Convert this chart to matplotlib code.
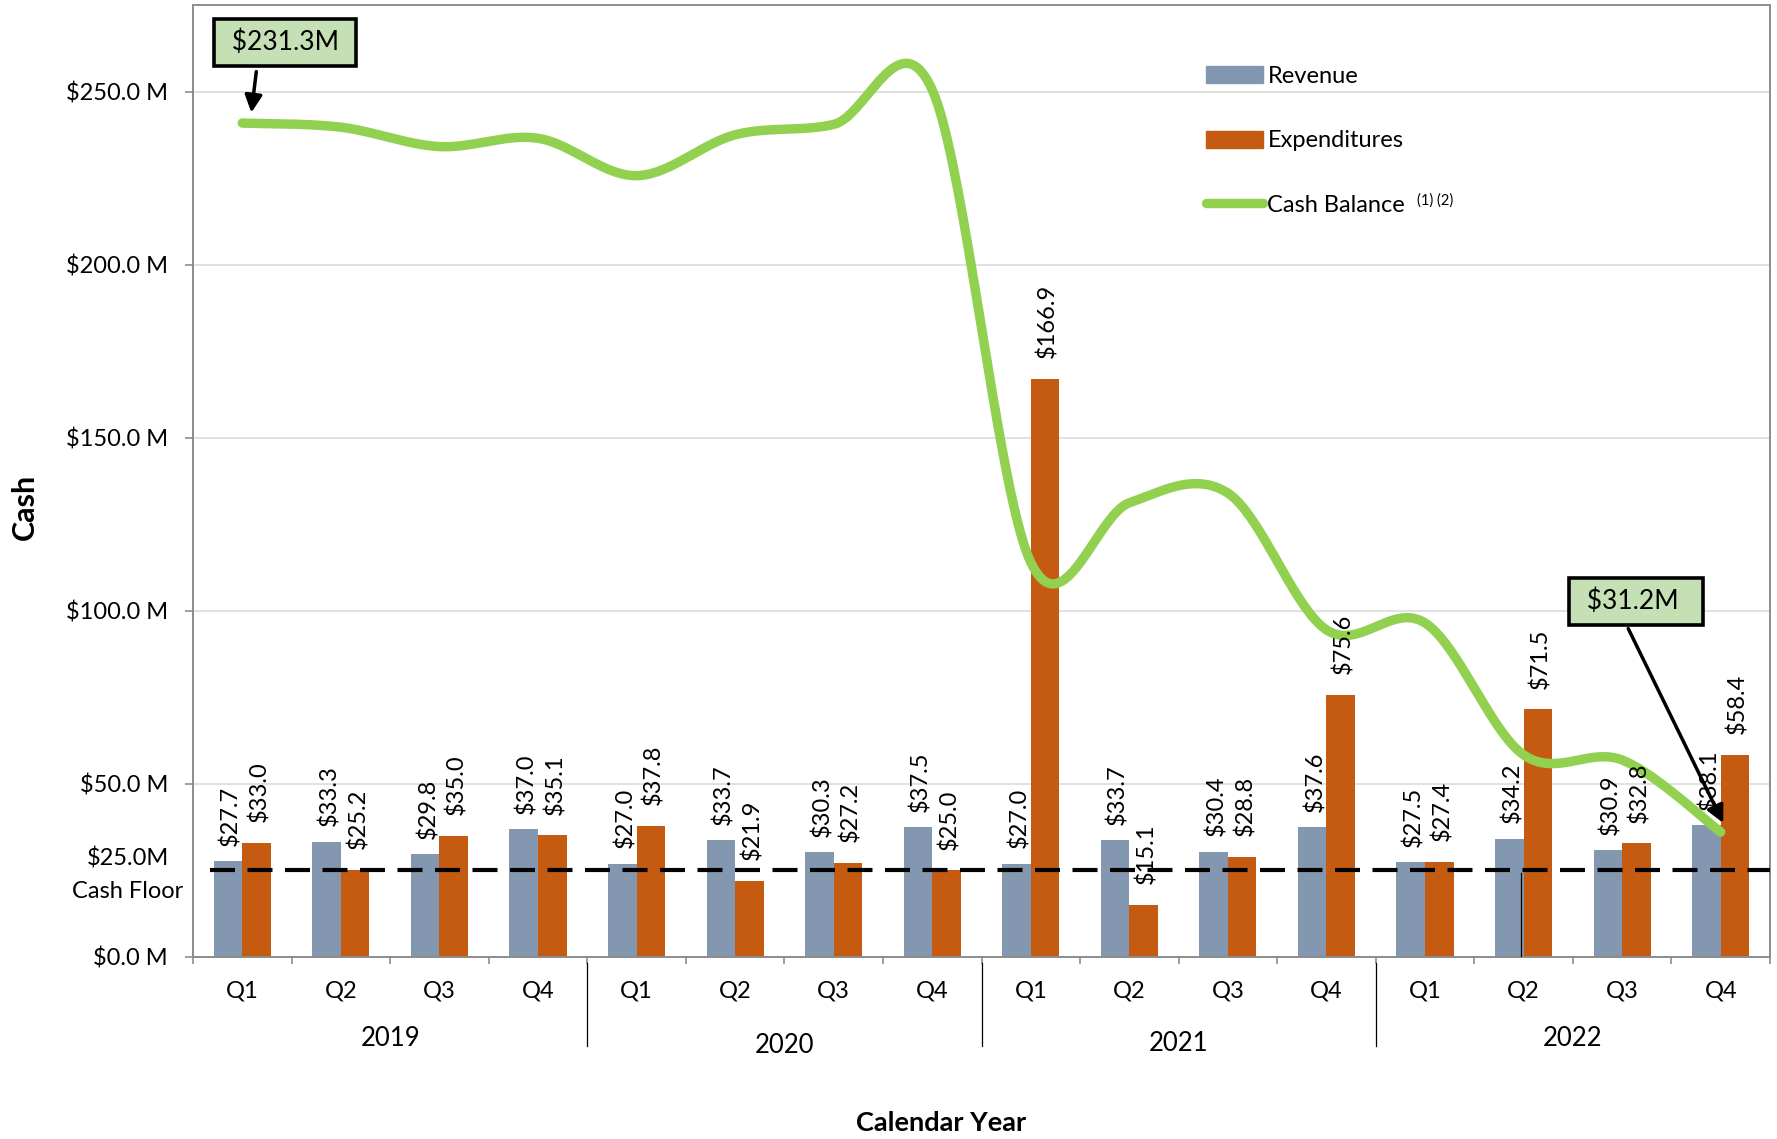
import numpy as np
import matplotlib
matplotlib.use('Agg')
import matplotlib.pyplot as plt
from matplotlib.transforms import blended_transform_factory, ScaledTranslation
from matplotlib.lines import Line2D
from matplotlib.patches import Patch

plt.rcParams['font.family'] = ['Lato', 'DejaVu Sans']

# data ($M)
quarters = ['Q1', 'Q2', 'Q3', 'Q4'] * 4
years = ['2019', '2020', '2021', '2022']
revenue = [27.7, 33.3, 29.8, 37.0, 27.0, 33.7, 30.3, 37.5,
           27.0, 33.7, 30.4, 37.6, 27.5, 34.2, 30.9, 38.1]
expenditures = [33.0, 25.2, 35.0, 35.1, 37.8, 21.9, 27.2, 25.0,
                166.9, 15.1, 28.8, 75.6, 27.4, 71.5, 32.8, 58.4]
cash_balance = [240.9, 239.7, 234.1, 236.5, 225.7, 237.5, 240.5, 250.5,
                114.0, 131.2, 134.0, 94.5, 96.5, 58.4, 56.9, 36.1]
cash_floor = 25.0
start_label = '$231.3M'
end_label = '$31.2M'

REV_COLOR = '#8497B0'
EXP_COLOR = '#C55A11'
CASH_COLOR = '#92D050'
BOX_COLOR = '#C5E0B4'
AXIS_GRAY = '#8C8C8C'


def smooth(y, n=40):
    """Excel-style smoothed line: cubic bezier through every point."""
    y = np.asarray(y, float)
    x = np.arange(len(y), dtype=float)
    pts = np.column_stack([x, y])
    pad = np.vstack([pts[:1], pts, pts[-1:]])
    t = np.linspace(0, 1, n)[:, None]
    out = [pts[:1]]
    for i in range(len(y) - 1):
        p0, p3 = pad[i + 1], pad[i + 2]
        p1 = p0 + (pad[i + 2] - pad[i]) / 6
        p2 = p3 - (pad[i + 3] - pad[i + 1]) / 6
        seg = ((1 - t) ** 3 * p0 + 3 * (1 - t) ** 2 * t * p1
               + 3 * (1 - t) * t ** 2 * p2 + t ** 3 * p3)
        out.append(seg[1:])
    out = np.vstack(out)
    return out[:, 0], out[:, 1]


W, H = 1777, 1139
fig = plt.figure(figsize=(W / 100, H / 100), dpi=100)
ax = fig.add_axes([193 / W, 1 - 957 / H, (1770 - 193) / W, 952 / H])

x = np.arange(len(revenue))
w = 0.29
ax.bar(x - w / 2, revenue, w, color=REV_COLOR, zorder=2)
ax.bar(x + w / 2, expenditures, w, color=EXP_COLOR, zorder=2)

for xi, v in zip(x - w / 2, revenue):
    ax.annotate(f'${v:.1f}', (xi, v), xytext=(2, 11), textcoords='offset points',
                rotation=90, ha='center', va='bottom', fontsize=17, zorder=6)
for xi, v in zip(x + w / 2, expenditures):
    ax.annotate(f'${v:.1f}', (xi, v), xytext=(2, 15), textcoords='offset points',
                rotation=90, ha='center', va='bottom', fontsize=17, zorder=6)

# cash floor
ax.axhline(cash_floor, xmin=17 / 1577, color='black', lw=3, dashes=(6, 3), zorder=3)
# stray separator stub in Q2 2022
ax.axvline(13 - 0.03, ymin=0, ymax=cash_floor / 275 * 0.97, color='black', lw=0.9, zorder=3)

xs, ys = smooth(cash_balance)
ax.plot(xs, ys, color=CASH_COLOR, lw=6.8, solid_capstyle='round', zorder=4)

# axes
ax.set_xlim(-0.5, 15.5)
ax.set_ylim(0, 275)
yt = np.arange(0, 251, 50)
ax.set_yticks(yt)
ax.set_yticklabels([f'${v:.1f} M' for v in yt], fontsize=17)
ax.yaxis.grid(True, color='#D9D9D9', lw=1.1)
ax.set_axisbelow(True)
ax.tick_params(axis='y', length=6, width=1.2, color=AXIS_GRAY, pad=12)

ax.set_xticks(x)
ax.set_xticklabels(quarters, fontsize=17)
ax.tick_params(axis='x', which='major', length=0, pad=17)
ax.set_xticks(np.arange(-0.5, 16, 1), minor=True)
ax.tick_params(axis='x', which='minor', length=5, width=1.2, color=AXIS_GRAY)

for s in ax.spines.values():
    s.set_color(AXIS_GRAY)
    s.set_linewidth(1.4)

trans = blended_transform_factory(ax.transData, ax.transAxes)
for b in [3.5, 7.5, 11.5]:
    ax.plot([b, b], [-0.006, -0.094], transform=trans, color='black', lw=0.9, clip_on=False)
year_label_y = [-0.086, -0.093, -0.091, -0.086]
for i, (yr, yy) in enumerate(zip(years, year_label_y)):
    ax.text(1.5 + 4 * i, yy, yr, transform=trans, ha='center', va='center', fontsize=18.5)

# legend
handles = [Patch(color=REV_COLOR), Patch(color=EXP_COLOR),
           Line2D([], [], color=CASH_COLOR, lw=6.8, solid_capstyle='round')]
ax.legend(handles, ['Revenue', 'Expenditures', 'Cash Balance'], loc='upper left',
          bbox_to_anchor=(1206 / W, 1 - 66 / H), bbox_transform=fig.transFigure,
          frameon=False, fontsize=17, handlelength=2.4, handleheight=0.75,
          handletextpad=0.2, labelspacing=1.84, borderpad=0, borderaxespad=0)
fig.text(1417 / W, 1 - 201 / H, '(1) (2)', fontsize=10.5, va='center')

# callouts
box = dict(boxstyle='square,pad=0.4', fc=BOX_COLOR, ec='black', lw=2.6)
arrow = dict(arrowstyle='-|>', color='black', lw=2.5, mutation_scale=26, shrinkA=0, shrinkB=0)


def nudged(dx, dy):
    return ax.transData + ScaledTranslation(dx / 72, dy / 72, fig.dpi_scale_trans)


ax.annotate('', xy=(0, cash_balance[0]), xycoords=nudged(6.5, 7.5),
            xytext=(3.6, 29.5), textcoords='offset points', arrowprops=arrow, zorder=7)
ax.annotate(' ' + start_label + ' ', xy=(0, cash_balance[0]), xytext=(31, 58),
            textcoords='offset points', ha='center', va='center', fontsize=19,
            bbox=box, zorder=8)
ax.annotate('', xy=(15, cash_balance[-1]), xycoords=nudged(1.8, 6.5),
            xytext=(-68.4, 140), textcoords='offset points', arrowprops=arrow, zorder=7)
ax.annotate(' ' + end_label + '  ', xy=(15, cash_balance[-1]), xytext=(-61, 166),
            textcoords='offset points', ha='center', va='center', fontsize=19,
            bbox=box, zorder=8)

# cash floor tag and titles
fig.text(128 / W, 1 - 859 / H, '$25.0M', ha='center', va='center', fontsize=17)
fig.text(128 / W, 1 - 892 / H, 'Cash Floor', ha='center', va='center', fontsize=17)
fig.text(25 / W, 1 - 507 / H, 'Cash', rotation=90, ha='center', va='center',
         fontsize=22, fontweight='bold')
fig.text(941 / W, 1 - 1123 / H, 'Calendar Year', ha='center', va='center',
         fontsize=19.5, fontweight='bold')

fig.savefig('out.png', dpi=100)
